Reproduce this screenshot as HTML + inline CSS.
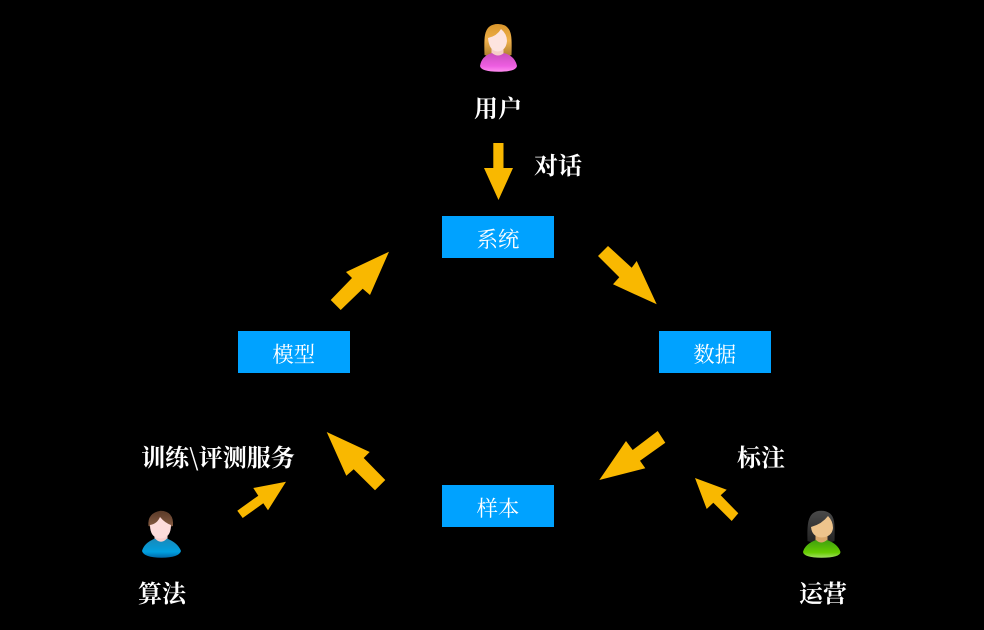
<!DOCTYPE html>
<html lang="zh">
<head>
<meta charset="utf-8">
<style>
html,body{margin:0;padding:0;background:#000;width:984px;height:630px;overflow:hidden}
svg{display:block}
.l{font-family:"Noto Serif CJK SC","Liberation Serif",serif;font-size:24px;fill:#fff;font-weight:700;text-anchor:middle}
.b{font-family:"Noto Serif CJK SC","Liberation Serif",serif;font-size:21.33px;fill:#fff;text-anchor:middle}
</style>
</head>
<body>
<svg width="984" height="630" viewBox="0 0 984 630" xmlns="http://www.w3.org/2000/svg">
<defs>
<linearGradient id="hairU" x1="0" y1="0" x2="0" y2="1"><stop offset="0" stop-color="#d9962c"/><stop offset=".5" stop-color="#efb04a"/><stop offset="1" stop-color="#a87a30"/></linearGradient>
<linearGradient id="hairA" x1="0" y1="0" x2="0" y2="1"><stop offset="0" stop-color="#5a3a28"/><stop offset="1" stop-color="#8a5f45"/></linearGradient>
<linearGradient id="hairO" x1="0" y1="0" x2="0" y2="1"><stop offset="0" stop-color="#4a4a4a"/><stop offset="1" stop-color="#222"/></linearGradient>
<linearGradient id="bodyU" x1="0" y1="0" x2="0" y2="1"><stop offset="0" stop-color="#c94fbc"/><stop offset=".7" stop-color="#ee5ee2"/><stop offset="1" stop-color="#ff8cf0"/></linearGradient>
<linearGradient id="bodyA" x1="0" y1="0" x2="0" y2="1"><stop offset="0" stop-color="#1a88b8"/><stop offset=".7" stop-color="#00a0e0"/><stop offset="1" stop-color="#0068a8"/></linearGradient>
<linearGradient id="bodyO" x1="0" y1="0" x2="0" y2="1"><stop offset="0" stop-color="#3f9f10"/><stop offset=".7" stop-color="#66cc00"/><stop offset="1" stop-color="#a0e060"/></linearGradient>
</defs>

<rect x="442" y="216" width="112" height="42" fill="#00a2ff"/>
<rect x="238" y="331" width="112" height="42" fill="#00a2ff"/>
<rect x="659" y="331" width="112" height="42" fill="#00a2ff"/>
<rect x="442" y="485" width="112" height="42" fill="#00a2ff"/>

<g fill="#f9b800">
<polygon points="493.3,143 503.5,143 503.5,168 513,168 498.5,200 484,168 493.3,168"/>
<polygon points="598,256 608,246 631.7,267.700 636.700,261 656.700,304.300 613,284.300 619.300,277.300"/>
<polygon points="330.700,300 340.700,310 362.700,288.700 370,295 389,251.700 346,272 352,278"/>
<polygon points="326.700,432 369.700,452 363.700,458 385.300,480 375,490.300 353.700,469.300 346.300,475.700"/>
<polygon points="657.700,431 665.300,442.700 640,460.700 645.300,468.300 599.300,480 626,441 632.700,450"/>
<polygon points="695,478 726.700,489.700 720.700,495.300 738.300,513.300 731.700,521 713.300,502.700 706.700,509"/>
<polygon points="286,481.700 253.300,488 258.300,495.700 237.300,510.700 242.700,518 263.300,503.300 268,510.300"/>
</g>

<!-- user avatar -->
<path d="M484.500,55 Q484,40 485,35 Q487,24 498,24 Q509,24 511,35 Q512,40 511.500,55 Q498,60 484.500,55 Z" fill="url(#hairU)"/>
<rect x="491.500" y="47" width="12" height="10" fill="#f5cfc8"/>
<path d="M480,66 Q481.500,56 492,53 Q498,58 504,53 Q515,56 517,66 Q516,71.700 498.500,71.700 Q481,71.700 480,66 Z" fill="url(#bodyU)"/>
<path d="M488,38 Q497,36 501,29 Q507,34 507,41 Q506,51 497.500,51.500 Q489,51 488,38 Z" fill="#fde4df"/>

<!-- algo avatar -->
<path d="M148.500,526 Q147,513 160.500,510.700 Q174,511 173,526 Q160,530 148.500,526 Z" fill="url(#hairA)"/>
<rect x="154.500" y="531" width="13" height="12" fill="#f8cfcf"/>
<path d="M142,551 Q144,543 155,538.500 Q161,545 167,538.500 Q178,543 181,551 Q179,557.700 161.500,557.700 Q144,557.700 142,551 Z" fill="url(#bodyA)"/>
<path d="M150,525 Q157,524 160,517 Q165,523 171,525 Q171,538 160.500,538.500 Q150,538 150,525 Z" fill="#fddcdc"/>

<!-- ops avatar -->
<path d="M807.500,541 Q807,527 808.500,521 Q811,510.700 821,510.700 Q832,510.700 834,521 Q835,527 834.500,541 Q821,546 807.500,541 Z" fill="url(#hairO)"/>
<rect x="815.500" y="533" width="12" height="11" fill="#d9a86c"/>
<path d="M803,552 Q805,544 816,540 Q821,545 827,540 Q838,544 840.500,552 Q840,557.700 821.500,557.700 Q804,557.700 803,552 Z" fill="url(#bodyO)"/>
<path d="M811,527 Q822,524 828,516 Q833,521 833,528 Q832,537 821.500,537.500 Q812,537 811,527 Z" fill="#eec48c"/>

<text class="l" x="498" y="117">用户</text>
<text class="l" x="558" y="174">对话</text>
<text class="l" x="218" y="466">训练\评测服务</text>
<text class="l" x="761" y="466">标注</text>
<text class="l" x="162" y="602">算法</text>
<text class="l" x="823" y="602">运营</text>

<text class="b" x="498" y="247">系统</text>
<text class="b" x="293.700" y="362">模型</text>
<text class="b" x="714.700" y="362">数据</text>
<text class="b" x="498" y="516">样本</text>
</svg>
</body>
</html>
